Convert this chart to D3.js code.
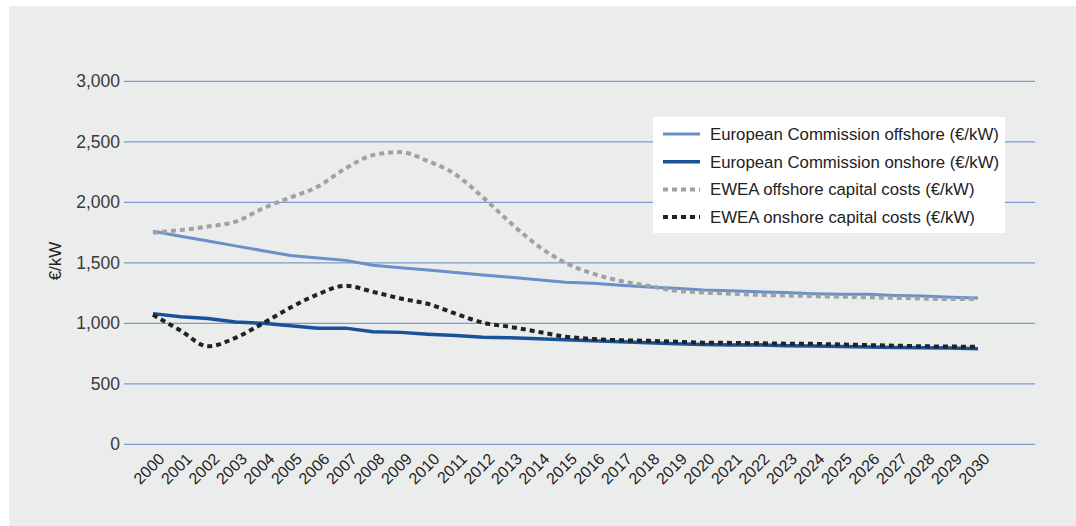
<!DOCTYPE html>
<html>
<head>
<meta charset="utf-8">
<script src="https://cdn.jsdelivr.net/npm/d3@7"></script>
<style>
  html, body { margin: 0; padding: 0; background: #fff; }
  svg { display: block; font-family: "Liberation Sans", Arial, sans-serif; }
</style>
</head>
<body>
<svg id="chart" width="1076" height="526"></svg>
<script>
// Years on the x axis
const years = d3.range(2000, 2031);

// Series values (€/kW)
const ecOffshore = [1760, 1720, 1680, 1640, 1600, 1560, 1540, 1520, 1480, 1460, 1440,
  1420, 1400, 1380, 1360, 1340, 1330, 1315, 1300, 1290, 1275,
  1270, 1260, 1255, 1245, 1240, 1240, 1230, 1225, 1215, 1210];
const ecOnshore = [1080, 1055, 1040, 1010, 1000, 980, 960, 960, 930, 925, 910,
  900, 885, 880, 872, 865, 855, 848, 840, 830, 825,
  820, 822, 815, 812, 808, 805, 800, 797, 795, 790];
const eweaOffshore = [1750, 1770, 1800, 1840, 1950, 2040, 2130, 2280, 2390, 2415, 2340,
  2230, 2040, 1830, 1640, 1500, 1410, 1350, 1310, 1270, 1255,
  1245, 1235, 1230, 1225, 1220, 1215, 1210, 1205, 1200, 1200];
const eweaOnshore = [1070, 940, 810, 880, 1000, 1130, 1240, 1310, 1260, 1205, 1160,
  1080, 1005, 970, 930, 890, 870, 860, 855, 848, 840,
  838, 835, 832, 830, 825, 820, 815, 810, 808, 805];

const yTicks = [0, 500, 1000, 1500, 2000, 2500, 3000];

const series = [
  { name: "European Commission offshore (€/kW)", values: ecOffshore, color: "#6b8fc9", width: 3, dash: null, curve: d3.curveLinear },
  { name: "European Commission onshore (€/kW)", values: ecOnshore, color: "#1a5299", width: 3.5, dash: null, curve: d3.curveLinear },
  { name: "EWEA offshore capital costs (€/kW)", values: eweaOffshore, color: "#a0a1a3", width: 4, dash: "5,4", curve: d3.curveMonotoneX },
  { name: "EWEA onshore capital costs (€/kW)", values: eweaOnshore, color: "#222222", width: 4, dash: "5,4", curve: d3.curveMonotoneX }
];

const svg = d3.select("#chart");

// grey panel behind everything
svg.append("rect")
  .attr("x", 9).attr("y", 6)
  .attr("width", 1076 - 9).attr("height", 526 - 6)
  .attr("fill", "#ebecec");

const x = d3.scaleLinear().domain([2000, 2030]).range([153, 978]);
const y = d3.scaleLinear().domain([0, 3000]).range([444.3, 81.3]);

// horizontal gridlines
svg.append("g")
  .selectAll("line")
  .data(yTicks)
  .enter()
  .append("line")
  .attr("x1", 124).attr("x2", 1035)
  .attr("y1", d => y(d)).attr("y2", d => y(d))
  .attr("stroke", "#7d9bcc")
  .attr("stroke-width", 1.2);

// y tick labels
svg.append("g")
  .selectAll("text")
  .data(yTicks)
  .enter()
  .append("text")
  .attr("x", 120)
  .attr("y", d => y(d))
  .attr("dy", "0.35em")
  .attr("text-anchor", "end")
  .attr("font-size", 17.5)
  .attr("fill", "#3a3a3a")
  .text(d => d3.format(",")(d));

// y axis title
svg.append("text")
  .attr("transform", "translate(61,261) rotate(-90)")
  .attr("text-anchor", "middle")
  .attr("font-size", 17)
  .attr("fill", "#222")
  .text("€/kW");

// x tick labels, rotated
svg.append("g")
  .selectAll("text")
  .data(years)
  .enter()
  .append("text")
  .attr("transform", d => `translate(${x(d) + 12.5},${460}) rotate(-45)`)
  .attr("text-anchor", "end")
  .attr("font-size", 16)
  .attr("fill", "#222")
  .text(d => d);

// series lines
series.forEach(s => {
  const line = d3.line()
    .x((d, i) => x(years[i]))
    .y(d => y(d))
    .curve(s.curve);
  svg.append("path")
    .datum(s.values)
    .attr("d", line)
    .attr("fill", "none")
    .attr("stroke", s.color)
    .attr("stroke-width", s.width)
    .attr("stroke-dasharray", s.dash)
    .attr("stroke-linejoin", "round");
});

// legend
const legend = svg.append("g").attr("transform", "translate(653,117)");
legend.append("rect")
  .attr("width", 352).attr("height", 116)
  .attr("fill", "#fff");

const rows = legend.selectAll("g.row")
  .data(series)
  .enter()
  .append("g")
  .attr("class", "row")
  .attr("transform", (d, i) => `translate(0,${17 + i * 27.7})`);

rows.append("line")
  .attr("x1", 10).attr("x2", 47)
  .attr("stroke", d => d.color)
  .attr("stroke-width", d => d.width)
  .attr("stroke-dasharray", d => d.dash);

rows.append("text")
  .attr("x", 57)
  .attr("dy", "0.35em")
  .attr("font-size", 16.8)
  .attr("fill", "#222")
  .text(d => d.name);
</script>
</body>
</html>
